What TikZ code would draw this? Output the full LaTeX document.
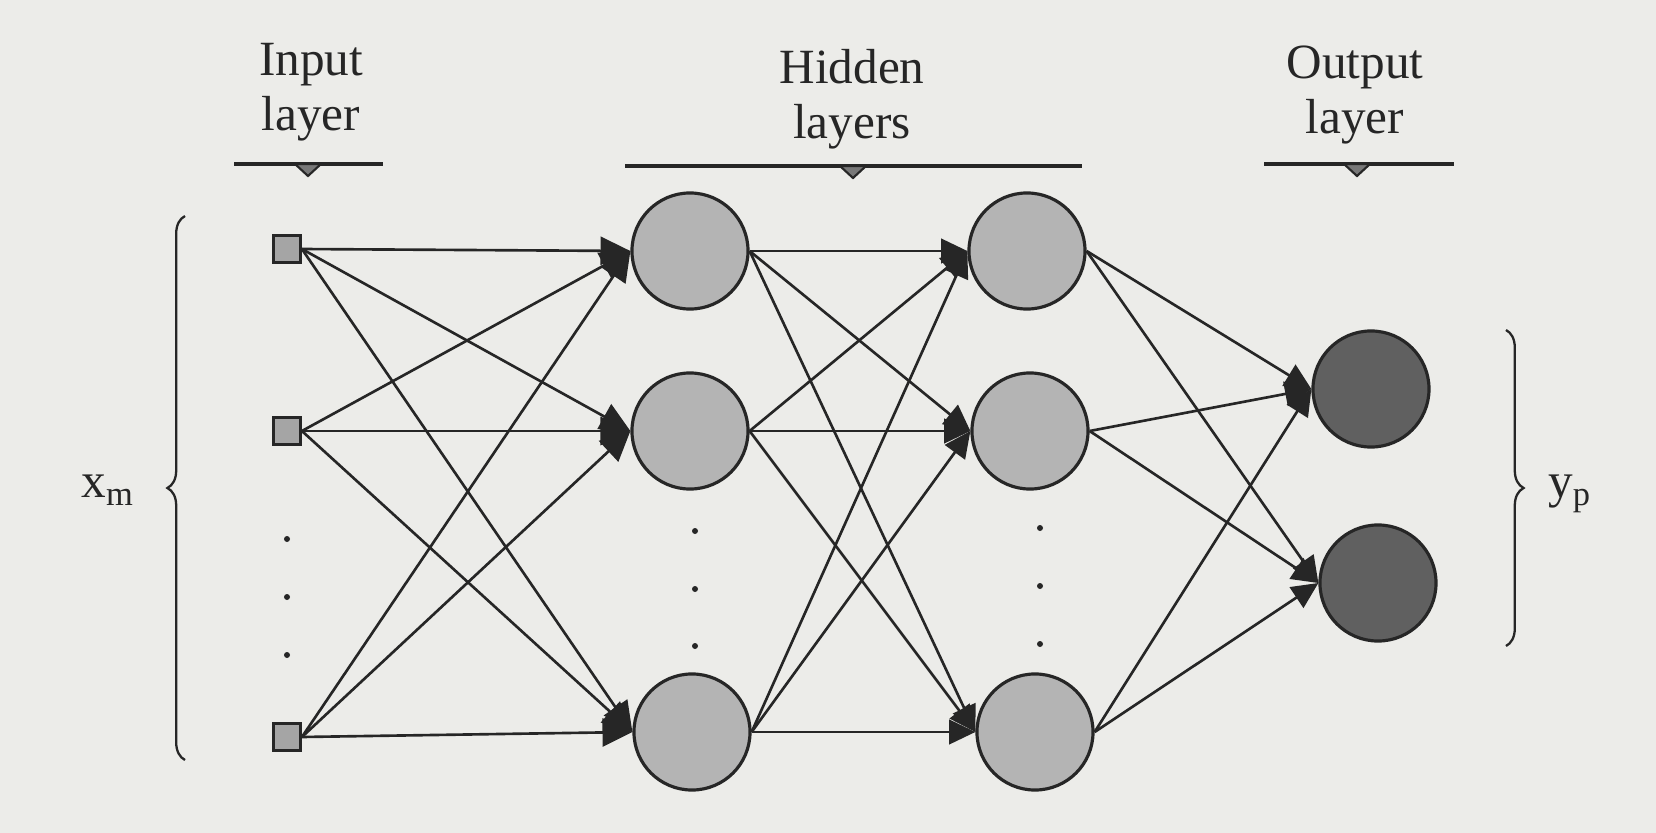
\documentclass[tikz,border=0pt]{standalone}
\usepackage{fontspec}
\setmainfont{Liberation Serif}
\usetikzlibrary{arrows.meta,decorations.pathreplacing}
\definecolor{paper}{RGB}{236,236,233}
\definecolor{ink}{RGB}{38,38,38}
\definecolor{hid}{RGB}{180,180,180}
\definecolor{outc}{RGB}{96,96,96}
\definecolor{inc}{RGB}{165,165,165}
\definecolor{tick}{RGB}{120,120,120}
\begin{document}
\begin{tikzpicture}[x=0.01cm,y=-0.01cm,
  lbl/.style={align=center,font=\fontsize{14}{15.5}\selectfont,text=ink,inner sep=0pt},
  inunit/.style={draw=ink,line width=0.8pt,fill=inc,minimum size=0.27cm,inner sep=0pt},
  hunit/.style={circle,draw=ink,line width=0.9pt,fill=hid,minimum size=1.16cm,inner sep=0pt},
  ounit/.style={circle,draw=ink,line width=0.9pt,fill=outc,minimum size=1.16cm,inner sep=0pt},
  conn/.style={draw=ink,line width=0.75pt,-{Triangle[length=8.5pt,width=8pt]}},
  connb/.style={draw=ink,line width=0.75pt,-{Triangle[length=7.5pt,width=7pt]}},
  dotc/.style={circle,fill=ink,inner sep=0pt,minimum size=0.06cm},
  rulel/.style={draw=ink,line width=0.9pt},
  tickmk/.style={fill=tick,draw=ink,line width=0.6pt},
  brc/.style={draw=ink,line width=0.65pt,decorate,decoration={brace,amplitude=5pt}}
]
\fill[paper] (0,0) rectangle (1656,833);
\useasboundingbox (0,0) rectangle (1656,833);

% headers
\node[lbl] (tin) at (311,92) {Input\\layer};
\node[lbl] (thid) at (852,99) {Hidden\\layers};
\node[lbl] (tout) at (1355,95) {Output\\layer};
\draw[rulel] (234,164) -- (383,164);
\draw[rulel] (625,166) -- (1082,166);
\draw[rulel] (1264,164) -- (1454,164);
\filldraw[tickmk] (295,164) -- (321,164) -- (308,176) -- cycle;
\filldraw[tickmk] (840,166) -- (866,166) -- (853,178) -- cycle;
\filldraw[tickmk] (1344,164) -- (1370,164) -- (1357,176) -- cycle;

% input units
\node[inunit] (i1) at (287,249) {};
\node[inunit] (i2) at (287,431) {};
\node[inunit] (i3) at (287,737) {};
\node[dotc] (di1) at (287,539) {};
\node[dotc] (di2) at (287,597) {};
\node[dotc] (di3) at (287,655) {};

% hidden layer 1
\node[hunit] (a1) at (690,251) {};
\node[hunit] (a2) at (690,431) {};
\node[hunit] (a3) at (692,732) {};
\node[dotc] (da1) at (695,531) {};
\node[dotc] (da2) at (695,589) {};
\node[dotc] (da3) at (695,646) {};

% hidden layer 2
\node[hunit] (b1) at (1027,251) {};
\node[hunit] (b2) at (1030,431) {};
\node[hunit] (b3) at (1035,732) {};
\node[dotc] (db1) at (1040,528) {};
\node[dotc] (db2) at (1040,586) {};
\node[dotc] (db3) at (1040,644) {};

% output layer
\node[ounit] (o1) at (1371,389) {};
\node[ounit] (o2) at (1378,583) {};

% connections
\foreach \i in {1,2,3}{
  \foreach \j in {1,2,3}{
    \draw[conn] (i\i.east) -- (a\j.west);
    \draw[connb] (a\i.east) -- (b\j.west);
  }
  \foreach \j in {1,2}{
    \draw[connb] (b\i.east) -- (o\j.west);
  }
}

% braces
\draw[brc] (185,760) -- (185,216);
\node[lbl] (xm) at (108,490) {x\textsubscript{m}};
\draw[brc] (1506,330) -- (1506,646);
\node[lbl] (yp) at (1570,494) {y\textsubscript{p}};
\end{tikzpicture}
\end{document}
